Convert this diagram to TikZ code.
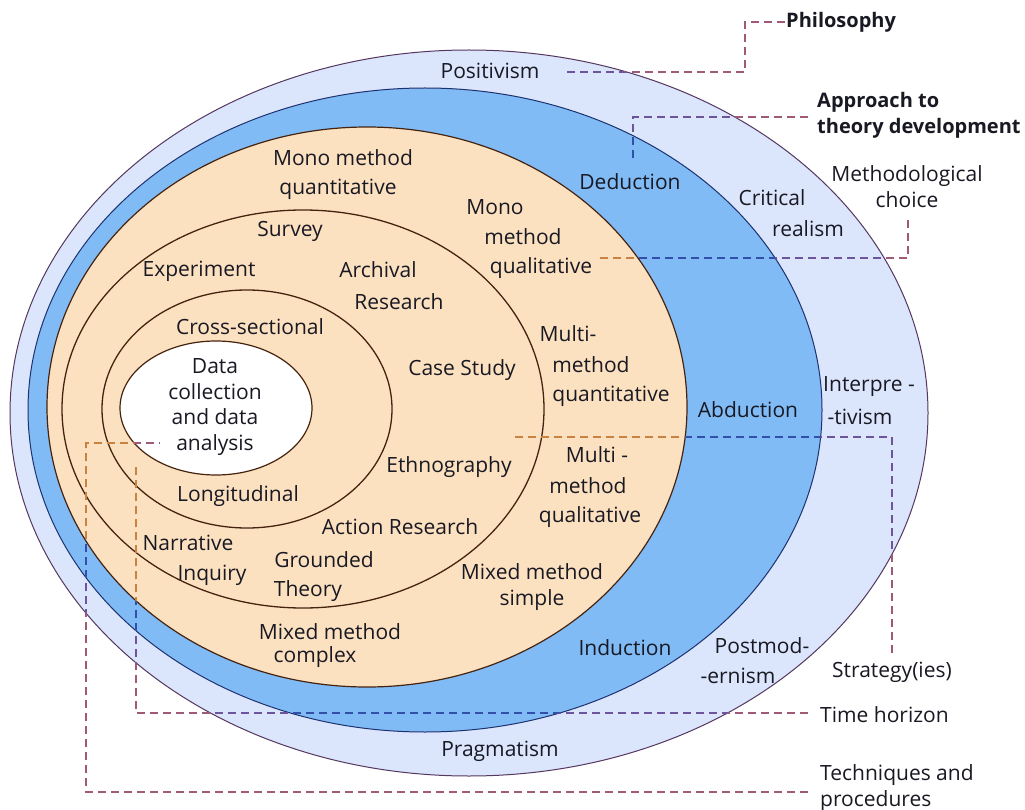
\documentclass[tikz,border=0pt]{standalone}
\usepackage{fontspec}
\setmainfont{Open Sans}
\definecolor{cLight}{RGB}{219,229,252}
\definecolor{cBlue}{RGB}{128,187,246}
\definecolor{cPeach}{RGB}{252,225,193}
\definecolor{txt}{RGB}{25,25,35}
\definecolor{bOut}{RGB}{85,55,95}
\definecolor{bBlue}{RGB}{30,50,110}
\definecolor{bBrown}{RGB}{70,35,15}
\definecolor{dOut}{RGB}{160,90,120}
\definecolor{dLight}{RGB}{110,85,155}
\definecolor{dBlue}{RGB}{50,80,170}
\definecolor{dPeach}{RGB}{200,130,65}
\newcommand\DashLines[1]{%
  \draw[dl,#1] (cp) -| (pk) -- (philo.west);
  \draw[dl,#1] (ca) -| (cd);
  \draw[dl,#1] (cm1) |- (cq);
  \draw[dl,#1] (cs1) |- (cs2);
  \draw[dl,#1] (ct1) -| (ct2);
  \draw[dl,#1] (ck1) -| (ck2) -- (ck3);
}
\begin{document}
\begin{tikzpicture}[x=1pt,y=-1pt,
  lb/.style={font=\fontsize{21}{30}\selectfont, text=txt, inner sep=1pt, align=center},
  lbb/.style={font=\fontsize{20}{26}\selectfont\bfseries, text=txt, inner sep=1pt, align=left},
  dl/.style={dash pattern=on 8pt off 5pt, line width=1.5pt}]
\useasboundingbox (0,0) rectangle (1025,810);
\fill[white] (0,0) rectangle (1025,810);
% rings
\draw[bOut, line width=1pt, fill=cLight] (469,413) ellipse [x radius=459, y radius=363];
\draw[bBlue, line width=1pt, fill=cBlue] (425,410) ellipse [x radius=397, y radius=322];
\draw[bBrown, line width=1.2pt, fill=cPeach] (367,407) ellipse [x radius=320, y radius=280];
\draw[bBrown, line width=1.3pt] (303,409) ellipse [x radius=241, y radius=199];
\draw[bBrown, line width=1.3pt] (247,409) ellipse [x radius=145, y radius=119];
\draw[bBrown, line width=1.2pt, fill=white] (216,408) ellipse [x radius=96, y radius=67];
% labels
\node[lb] (posit) at (490,71) {Positivism};
\node[lbb, anchor=west] (philo) at (785,22) {Philosophy};
\node[lbb, anchor=west] (appr) at (816,115) {Approach to\\theory development};
\node[lb] (deduc) at (630,182) {Deduction};
\node[lb] (crit1) at (772,198) {Critical};
\node[lb] (crit2) at (808,229) {realism};
\node[lb, font=\fontsize{21}{26}\selectfont] (meth) at (907,187) {Methodological\\choice};
\node[lb] (mmq1) at (343,158) {Mono method};
\node[lb] (mmq2) at (338,189) {quantitative};
\node[lb] (mql1) at (495,207) {Mono};
\node[lb] (mql2) at (523,237) {method};
\node[lb] (mql3) at (541,268) {qualitative};
\node[lb] (survey) at (290,231) {Survey};
\node[lb] (exper) at (199,271) {Experiment};
\node[lb] (arch1) at (378,270) {Archival};
\node[lb] (arch2) at (399,302) {Research};
\node[lb] (cross) at (250,327) {Cross-sectional};
\node[lb] (case) at (462,370) {Case Study};
\node[lb] (mtq1) at (568,334) {Multi-};
\node[lb] (mtq2) at (591,365) {method};
\node[lb] (mtq3) at (611,396) {quantitative};
\node[lb, font=\fontsize{21}{25.7}\selectfont] (data) at (215,407) {Data\\collection\\and data\\analysis};
\node[lb] (abduc) at (748,410) {Abduction};
\node[lb] (interp1) at (869,387) {Interpre -};
\node[lb] (interp2) at (860,417) {-tivism};
\node[lb] (ethno) at (449,467) {Ethnography};
\node[lb] (mtl1) at (597,455) {Multi -};
\node[lb] (mtl2) at (588,486) {method};
\node[lb] (mtl3) at (590,517) {qualitative};
\node[lb] (longi) at (238,496) {Longitudinal};
\node[lb] (action) at (400,527) {Action Research};
\node[lb] (narr1) at (188,543) {Narrative};
\node[lb] (narr2) at (212,575) {Inquiry};
\node[lb] (grnd1) at (324,560) {Grounded};
\node[lb] (grnd2) at (308,591) {Theory};
\node[lb, font=\fontsize{21}{26}\selectfont] (mxs) at (532,587) {Mixed method\\simple};
\node[lb] (mxc1) at (330,632) {Mixed method};
\node[lb] (mxc2) at (315,657) {complex};
\node[lb] (induc) at (625,648) {Induction};
\node[lb] (post1) at (762,646) {Postmod-};
\node[lb] (post2) at (738,676) {-ernism};
\node[lb] (strat) at (892,672) {Strategy(ies)};
\node[lb, anchor=west] (time) at (819,715) {Time horizon};
\node[lb, anchor=west, align=left, font=\fontsize{21}{26}\selectfont] (tech) at (819,788) {Techniques and\\procedures};
\node[lb] (prag) at (500,751) {Pragmatism};
% connector coordinates
\coordinate (cp) at (567,72);
\coordinate (pk) at (745,22);
\coordinate (ca) at (808,117);
\coordinate (cd) at (633,160);
\coordinate (cm1) at (908,220);
\coordinate (cq) at (600,258);
\coordinate (cs1) at (892,653);
\coordinate (cs2) at (512,437);
\coordinate (ct1) at (808,713);
\coordinate (ct2) at (136,465);
\coordinate (ck1) at (808,792);
\coordinate (ck2) at (86,443);
\coordinate (ck3) at (160,443);
% dashed connectors, coloured by region
\DashLines{dOut}
\begin{scope}
  \clip (469,413) ellipse [x radius=459, y radius=363];
  \DashLines{dLight}
\end{scope}
\begin{scope}
  \clip (425,410) ellipse [x radius=397, y radius=322];
  \DashLines{dBlue}
\end{scope}
\begin{scope}
  \clip (367,407) ellipse [x radius=320, y radius=280];
  \DashLines{dPeach}
\end{scope}
\begin{scope}
  \clip (216,408) ellipse [x radius=96, y radius=67];
  \DashLines{dOut}
\end{scope}
\end{tikzpicture}
\end{document}
